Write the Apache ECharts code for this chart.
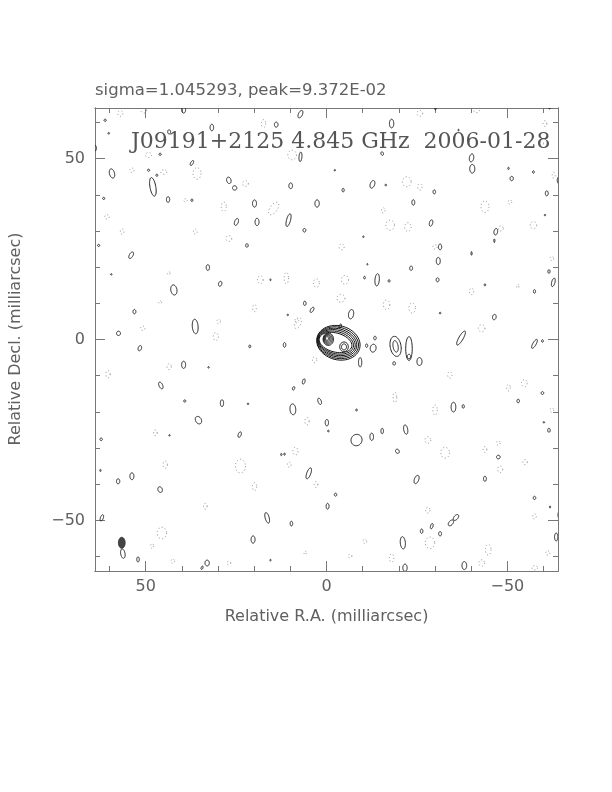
<!DOCTYPE html>
<html>
<head>
<meta charset="utf-8">
<script src="https://cdn.jsdelivr.net/npm/echarts@6/dist/echarts.min.js"></script>
<style>html,body{margin:0;padding:0;background:#fff}#c{width:612px;height:792px}</style>
</head>
<body>
<div id="c"></div>
<script>
// Axis ticks (milliarcsec)
const majorTicks = [-50, 0, 50];
const minorTicks = [-60, -50, -40, -30, -20, -10, 0, 10, 20, 30, 40, 50, 60];
const axisRange = [-64, 64];

// Contours: [RA offset, Dec offset, semi-axis x, semi-axis y, tilt deg]
const coreContours = [
  [-3.29, -0.91, 6.08, 4.70, 15],
  [-3.13, -0.90, 5.81, 4.29, 15],
  [-2.97, -0.88, 5.50, 3.87, 15],
  [-2.81, -0.86, 5.23, 3.46, 15],
  [-2.65, -0.85, 4.92, 3.04, 15],
  [-2.49, -0.83, 4.64, 2.63, 15],
  [-0.50, 0.08, 1.44, 1.71, 0],
  [-0.41, 0.14, 1.19, 1.44, 0],
  [-0.30, 0.19, 0.94, 1.16, 0],
  [-0.22, 0.25, 0.66, 0.88, 0],
  [-0.14, 0.28, 0.39, 0.55, 0],
  [-4.84, -2.02, 1.19, 1.33, 0],
  [-4.84, -2.05, 0.69, 0.83, 0],
  [-3.8, 3.7, 0.3, 0.6, 20]
];

const solidContours = [
  [39.5, 63.5, 0.55, 0.9, 0], [7.2, 62.3, 0.55, 1.1, 25], [31.7, 58.6, 0.5, 0.9, 0],
  [13.9, 59.4, 0.5, 0.7, 0], [43.5, 57.4, 0.4, 0.6, 0], [7.2, 50.5, 0.4, 1.3, 5],
  [46, 51.2, 0.3, 0.3, 0], [37.2, 48.8, 0.35, 0.75, 30], [59.3, 45.9, 0.7, 1.3, -15],
  [48, 42.2, 0.8, 2.6, -10], [27, 44, 0.6, 0.9, -15], [25.4, 41.9, 0.6, 0.6, 0],
  [9.9, 42.5, 0.5, 0.8, 0], [43.8, 38.7, 0.45, 0.8, 0], [37.2, 38.5, 0.25, 0.35, 0],
  [19.9, 37.6, 0.55, 1.0, 0], [2.6, 37.6, 0.6, 1.0, 0], [24.9, 32.5, 0.5, 1.0, 20],
  [19.2, 32.5, 0.55, 1.0, 0], [10.5, 33, 0.55, 1.8, 15], [6.1, 30.2, 0.4, 0.5, 0],
  [22, 26, 0.35, 0.5, 0], [54, 23.3, 0.5, 1.0, 30],
  [61.2, 60.6, 0.3, 0.3, 0], [60.2, 57, 0.2, 0.25, 0], [61.6, 39, 0.3, 0.3, 0],
  [63, 26, 0.3, 0.3, 0], [49.2, 46.8, 0.3, 0.3, 0], [46.9, 45.4, 0.25, 0.3, 0],
  [64.2, 52.9, 0.6, 0.9, 0],
  [-18, 59.7, 0.6, 1.2, 0], [-15.4, 51.4, 0.35, 0.5, -20], [-40.1, 50.2, 0.6, 1.1, 10],
  [-40.3, 47.2, 0.7, 1.2, 0], [-51.2, 44.5, 0.45, 0.6, 0], [-50.3, 47.3, 0.2, 0.3, 0],
  [-57.2, 46.3, 0.25, 0.35, 0], [-60.9, 40.4, 0.4, 0.7, 0], [-64.3, 44, 0.5, 1.0, 0],
  [-12.7, 42.9, 0.6, 1.1, 20], [-4.6, 41.3, 0.3, 0.5, 0], [-16.4, 42.7, 0.2, 0.25, 0],
  [-29.8, 40.8, 0.35, 0.55, 0], [-24, 37.9, 0.4, 0.75, 0], [-28.9, 32.2, 0.45, 0.9, 15],
  [-46.8, 29.8, 0.5, 0.9, 10], [-46.4, 27.3, 0.15, 0.5, 0], [-31.4, 25.6, 0.45, 0.8, 0],
  [-40.1, 23.8, 0.15, 0.5, 0], [-30.9, 21.7, 0.55, 1.0, 0],
  [-2.3, 46.8, 0.2, 0.2, 0], [-36.5, 57.9, 0.2, 0.2, 0], [-60.4, 34.4, 0.2, 0.2, 0],
  [-10.2, 28.4, 0.2, 0.2, 0], [-30.1, 63.8, 0.2, 0.3, 0], [-61.7, 64, 0.2, 0.3, 0],
  [32.8, 19.9, 0.45, 0.8, 0], [29.4, 15.4, 0.45, 0.7, 15], [42.2, 13.7, 0.85, 1.4, -10],
  [53.1, 7.7, 0.4, 0.6, 0], [36.3, 3.6, 0.8, 2.0, -5], [57.5, 1.7, 0.55, 0.6, 0],
  [51.6, -2.4, 0.45, 0.75, 20], [39.5, -7, 0.55, 1.0, 0], [45.8, -12.7, 0.5, 1.0, -25],
  [39.2, -17, 0.3, 0.3, 0], [28.9, -17.6, 0.45, 0.95, 0], [9.3, -19.3, 0.8, 1.5, -5],
  [1.9, -17.1, 0.45, 0.9, -20], [6.3, -11.6, 0.35, 0.75, 15], [9.1, -13.5, 0.3, 0.5, 20],
  [6, 10, 0.35, 0.6, 0], [4, 8.2, 0.4, 0.8, 30], [11.6, -1.5, 0.35, 0.65, 0],
  [21.2, -1.9, 0.25, 0.4, 0], [15.5, 16.5, 0.2, 0.2, 0], [10.7, 6.8, 0.2, 0.2, 0],
  [32.6, -7.7, 0.2, 0.2, 0], [21.7, -17.8, 0.2, 0.2, 0], [59.5, 18, 0.2, 0.2, 0],
  [35.4, -22.3, 0.8, 1.1, -30],
  [-23.4, 19.7, 0.4, 0.6, 0], [-14, 16.5, 0.6, 1.7, 5], [-10.5, 17.1, 0.25, 0.35, 0],
  [-17.3, 16.2, 0.25, 0.35, 0], [-30.7, 16.5, 0.4, 0.55, 0], [-11.3, 20.8, 0.15, 0.2, 0],
  [-43.8, 15.1, 0.2, 0.3, 0], [-57.5, 13.3, 0.3, 0.5, 0], [-62.7, 15.8, 0.45, 1.2, 15],
  [-61.5, 18.8, 0.3, 0.5, 0], [-6.8, 7, 0.7, 1.3, 10], [-31.4, 7.3, 0.2, 0.25, 0],
  [-46.4, 6.2, 0.5, 0.75, 10], [-37.2, 0.4, 0.6, 2.2, 30], [-57.5, -1.2, 0.45, 1.4, 30],
  [-59.7, -0.4, 0.25, 0.35, 0], [-13.4, 0.4, 0.35, 0.5, 0], [-12.9, -2.4, 0.8, 1.1, 10],
  [-11.1, -1.7, 0.3, 0.5, 0], [-19.1, -1.9, 1.5, 2.8, -10], [-19.1, -1.9, 0.7, 1.6, -10],
  [-18.7, -6.6, 0.35, 0.5, 0], [-22.8, -2.5, 0.9, 3.3, 0], [-22.8, -4.7, 0.45, 0.6, 0],
  [-25.7, -6.1, 0.7, 1.1, 0], [-9.3, -6.3, 0.45, 1.3, 0], [-59.7, -14.8, 0.35, 0.4, 0],
  [-53, -17, 0.35, 0.5, 0], [-35.1, -18.7, 0.65, 1.35, 0], [-37.8, -18.5, 0.3, 0.5, 0],
  [-8.3, -19.5, 0.2, 0.3, 0],
  [24, -26.3, 0.4, 0.8, 20], [62.3, -27.6, 0.35, 0.35, 0], [53.8, -37.8, 0.55, 0.95, 0],
  [57.6, -39.2, 0.45, 0.7, 0], [46, -41.5, 0.6, 0.8, -20], [4.9, -37, 0.55, 1.6, 20],
  [62.1, -49.3, 0.4, 0.9, 20], [16.4, -49.3, 0.55, 1.5, -15], [9.7, -50.9, 0.35, 0.65, 0],
  [20.3, -55.3, 0.55, 1.0, 0], [56.3, -59.2, 0.6, 1.3, -10], [52.1, -60.8, 0.35, 0.7, 0],
  [33, -61.8, 0.6, 0.8, 0], [34.4, -63.1, 0.25, 0.5, 20], [12.5, -31.8, 0.2, 0.3, 0],
  [11.6, -31.7, 0.2, 0.3, 0], [43.4, -26.5, 0.2, 0.2, 0], [15.5, -61, 0.2, 0.2, 0],
  [62.5, -36.2, 0.15, 0.3, 0],
  [-0.1, -23, 0.45, 0.9, 0], [-0.5, -25.3, 0.2, 0.25, 0], [-8.3, -27.8, 1.5, 1.6, 30],
  [-12.5, -26.9, 0.5, 1.0, 0], [-15.4, -25.3, 0.35, 0.75, 0], [-21.9, -24.9, 0.55, 1.3, -10],
  [-19.6, -30.9, 0.5, 0.6, -30], [-24.9, -38.7, 0.6, 1.2, 20], [-47.5, -32.5, 0.5, 0.5, 0],
  [-43.8, -38.5, 0.4, 0.7, 0], [-61.5, -25.1, 0.35, 0.55, 0], [-60.1, -22.9, 0.2, 0.2, 0],
  [-2.5, -42.9, 0.35, 0.4, 0], [-0.3, -46.1, 0.4, 0.8, 0], [-57.5, -43.8, 0.35, 0.45, 0],
  [-61.8, -46.3, 0.15, 0.3, 0], [-34.4, -50.7, 0.55, 0.95, 40], [-35.8, -49.2, 0.55, 0.95, 40],
  [-29.1, -51.6, 0.35, 0.75, 15], [-26.3, -53, 0.35, 0.6, 0], [-31.4, -53.7, 0.4, 0.6, 0],
  [-21.1, -56.2, 0.7, 1.7, -5], [-21.7, -63.1, 0.6, 1.0, 0], [-38.1, -62.5, 0.65, 1.1, 0],
  [-63.5, -54.6, 0.45, 1.1, 0], [-64.2, -48.5, 0.2, 0.8, 0]
];

const negativeContours = [
  [57, 62.5, 0.7, 0.8, 0], [50.5, 63.4, 0.8, 0.8, 0], [49.2, 51, 0.8, 0.7, 0],
  [35.8, 45.9, 1.1, 1.6, 0], [22.4, 43.1, 0.8, 0.8, 0], [28.4, 36.7, 0.7, 1.3, 0],
  [14.6, 36.2, 1.0, 2.0, 35], [9.5, 51, 1.2, 1.3, 0], [17.4, 59.7, 0.6, 1.1, 0],
  [27, 27.9, 0.8, 0.8, 0], [53.8, 46.8, 0.6, 0.6, 0], [56.5, 29.8, 0.5, 0.7, 0],
  [36.3, 29.8, 0.5, 0.7, 0], [60.7, 33.9, 0.6, 0.6, 0], [45, 46.3, 0.8, 0.6, 0],
  [39, 38.5, 0.5, 0.4, 0],
  [-25.8, 62.5, 0.8, 0.8, 0], [-41.5, 63.4, 0.8, 0.7, 0], [-59.5, 54.2, 0.5, 0.5, 0],
  [-60.4, 59.7, 0.5, 0.8, 0], [-22.2, 43.6, 1.2, 1.4, 0], [-25.8, 42.2, 0.6, 0.9, 0],
  [-15.7, 35.7, 0.5, 0.7, 0], [-43.8, 36.7, 1.1, 1.6, 0], [-50.7, 38, 0.5, 0.6, 0],
  [-17.6, 31.6, 1.2, 1.4, 0], [-22.5, 31.1, 0.9, 1.2, 0], [-48.2, 30.7, 0.7, 0.7, 0],
  [-57.2, 31.6, 0.9, 1.0, 0], [-30, 25.6, 0.6, 0.6, 0], [-4.2, 25.6, 0.7, 0.8, 0],
  [-62.3, 22.4, 0.5, 0.6, 0], [-62.8, 45.4, 0.4, 0.8, 0],
  [18.3, 16.5, 0.8, 1.1, 0], [11.1, 17, 0.6, 1.6, 0], [2.8, 15.6, 0.8, 1.2, 0],
  [19.9, 8.7, 0.5, 1.0, 0], [7.9, 4.5, 0.8, 1.6, 25], [30.6, 0.8, 0.7, 1.1, 0],
  [50.8, 3.1, 0.6, 0.6, 0], [43.5, -7.5, 0.6, 0.8, 0], [60.4, -9.6, 0.6, 1.0, 0],
  [3.3, -5.6, 0.6, 0.8, 0], [46, 10.3, 0.4, 0.4, 0], [43.6, 18.3, 0.4, 0.4, 0],
  [29.8, 5, 0.5, 0.6, 0],
  [-5.1, 16.5, 1.0, 1.2, 0], [-4, 11.4, 1.1, 1.1, 0], [-16.6, 9.6, 0.9, 1.3, 0],
  [-23.7, 8.7, 0.9, 1.4, 0], [-40.1, 13.3, 0.6, 0.9, 0], [-52.9, 14.7, 0.3, 0.5, 0],
  [-42.9, 3.1, 0.9, 1.0, 0], [-34.1, -9.8, 0.6, 0.9, 0], [-18.9, -16, 0.5, 1.4, 0],
  [-30, -19.5, 0.6, 1.4, 0], [-50.3, -13.3, 0.5, 0.9, 0], [-54.7, -12.1, 0.8, 1.0, 0],
  [-62.3, -19.5, 0.5, 0.6, 0], [8.2, 5.3, 0.5, 0.7, 0],
  [47.3, -25.8, 0.5, 0.8, 0], [44.6, -34.6, 0.6, 1.0, 0], [23.8, -35, 1.4, 1.9, 0],
  [8.6, -30.9, 0.7, 1.1, 0], [10.3, -34.6, 0.5, 0.7, 0], [19.9, -40.7, 0.6, 1.1, 0],
  [33.5, -46.1, 0.5, 0.8, 0], [45.5, -53.5, 1.3, 1.6, 0], [48.2, -57.1, 0.4, 0.7, 0],
  [42.5, -61.3, 0.5, 0.6, 0], [27, -61.8, 0.5, 0.5, 0], [2.9, -40.1, 0.5, 0.8, 0],
  [5.4, -22.6, 0.6, 1.0, 0], [5.9, -59, 0.3, 0.5, 0],
  [-28, -27.8, 0.8, 0.9, 0], [-32.8, -31.3, 1.2, 1.5, 0], [-43.8, -30.4, 0.5, 0.8, 0],
  [-47.5, -28.6, 0.5, 0.6, 0], [-48, -35.9, 0.7, 0.9, 0], [-54.9, -33.9, 0.6, 0.7, 0],
  [-28, -47.2, 0.6, 0.8, 0], [-28.6, -56.2, 1.3, 1.6, 0], [-44.7, -58.1, 0.8, 1.5, 0],
  [-18, -60.4, 0.6, 1.2, 0], [-10.6, -55.8, 0.5, 0.6, 0], [-6.5, -59.9, 0.5, 0.5, 0],
  [-42.9, -61.8, 0.8, 0.9, 0], [-57.5, -48.9, 0.5, 0.7, 0], [-61.2, -59, 0.6, 0.6, 0],
  [-57.6, -63.1, 0.8, 0.6, 0]
];

// Restoring beam (filled)
const beam = [[56.6, -56.2, 0.92, 1.52, 0]];

const titleText = 'J09191+2125 4.845 GHz  2006-01-28';
const statsText = 'sigma=1.045293, peak=9.372E-02';
const xName = 'Relative R.A. (milliarcsec)';
const yName = 'Relative Decl. (milliarcsec)';

const chart = echarts.init(document.getElementById('c'), null, {renderer: 'canvas'});
const GRAY = '#777';
const TXT = '#606060';

function ellipseRenderer(style) {
  return function (params, api) {
    const c = api.coord([api.value(0), api.value(1)]);
    const s = api.size([api.value(2) * 2, api.value(3) * 2]);
    const rx = s[0] / 2, ry = s[1] / 2;
    const r = api.value(4) * Math.PI / 180;
    const cr = Math.cos(r), sr = Math.sin(r);
    const pts = [];
    const n = 48;
    for (let i = 0; i < n; i++) {
      const t = i / n * Math.PI * 2;
      const ex = rx * Math.cos(t), ey = ry * Math.sin(t);
      pts.push([c[0] + ex * cr - ey * sr, c[1] + ex * sr + ey * cr]);
    }
    return {type: 'polygon', shape: {points: pts}, style: style};
  };
}

function tickAxis(pos, values, len, labels, isX) {
  const o = {
    type: 'value', min: axisRange[0], max: axisRange[1], position: pos,
    gridIndex: 0,
    axisLine: {show: true, onZero: false, lineStyle: {color: GRAY, width: 1}},
    axisTick: {show: true, inside: true, length: len, customValues: values, lineStyle: {color: GRAY, width: 1}},
    axisLabel: labels ? {
      show: true, customValues: values, color: TXT, fontSize: 16, fontFamily: 'DejaVu Sans',
      margin: isX ? 8 : 10,
      formatter: v => String(v).replace('-', '\u2212')
    } : {show: false},
    splitLine: {show: false}
  };
  if (isX) o.inverse = true;
  return o;
}

const solidStyle = {fill: 'none', stroke: '#222', lineWidth: 1};
const coreStyle = {fill: 'none', stroke: '#111', lineWidth: 1};
const negStyle = {fill: 'none', stroke: '#8a8a8a', lineWidth: 1, lineDash: [1, 2.5]};
const beamStyle = {fill: '#444', stroke: '#333', lineWidth: 1};

chart.setOption({
  animation: false,
  backgroundColor: '#fff',
  grid: {left: 95, top: 108, width: 463, height: 463, outerBoundsMode: 'none', containLabel: false},
  xAxis: [
    tickAxis('bottom', majorTicks, 10, true, true),
    tickAxis('bottom', minorTicks, 5, false, true),
    tickAxis('top', majorTicks, 10, false, true),
    tickAxis('top', minorTicks, 5, false, true)
  ],
  yAxis: [
    tickAxis('left', majorTicks, 10, true, false),
    tickAxis('left', minorTicks, 5, false, false),
    tickAxis('right', majorTicks, 10, false, false),
    tickAxis('right', minorTicks, 5, false, false)
  ],
  series: [
    {type: 'custom', name: 'negative', xAxisIndex: 0, yAxisIndex: 0, clip: true,
     encode: {x: 0, y: 1}, renderItem: ellipseRenderer(negStyle), data: negativeContours, silent: true},
    {type: 'custom', name: 'positive', xAxisIndex: 0, yAxisIndex: 0, clip: true,
     encode: {x: 0, y: 1}, renderItem: ellipseRenderer(solidStyle), data: solidContours, silent: true},
    {type: 'custom', name: 'core', xAxisIndex: 0, yAxisIndex: 0, clip: true,
     encode: {x: 0, y: 1}, renderItem: ellipseRenderer(coreStyle), data: coreContours, silent: true},
    {type: 'custom', name: 'beam', xAxisIndex: 0, yAxisIndex: 0, clip: true,
     encode: {x: 0, y: 1}, renderItem: ellipseRenderer(beamStyle), data: beam, silent: true}
  ],
  graphic: [
    {type: 'text', left: 95, top: 82, z: 10,
     style: {text: statsText, fill: TXT, font: '16.5px "DejaVu Sans"'}},
    {type: 'text', left: 131, top: 131, z: 10,
     style: {text: titleText, fill: '#555', font: '22px "DejaVu Serif"'}},
    {type: 'text', x: 326.5, y: 617, z: 10,
     style: {text: xName, fill: TXT, font: '16px "DejaVu Sans"', align: 'center', verticalAlign: 'middle'}},
    {type: 'text', x: 16, y: 339, rotation: Math.PI / 2, z: 10,
     style: {text: yName, fill: TXT, font: '16px "DejaVu Sans"', align: 'center', verticalAlign: 'middle'}}
  ]
});
</script>
</body>
</html>
